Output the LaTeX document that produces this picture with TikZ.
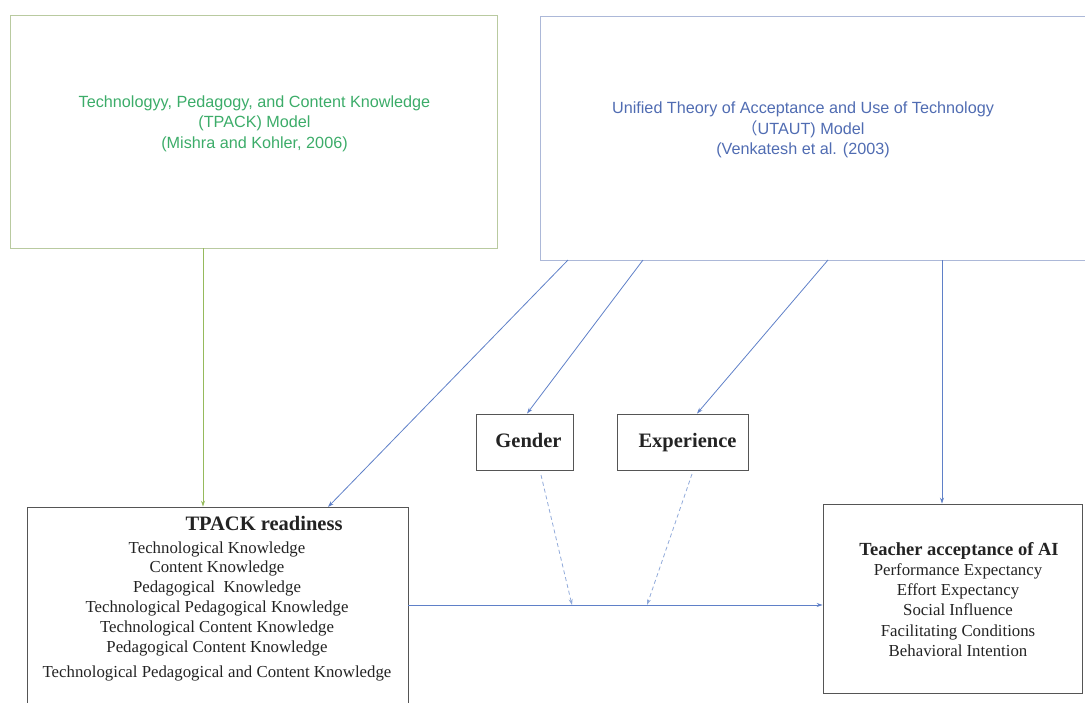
\documentclass[tikz,border=0pt]{standalone}
\usepackage{fontspec}
\setmainfont{Liberation Serif}
\newfontfamily\sansf{Liberation Sans}
\newfontfamily\cjk{Noto Sans CJK SC}
\usetikzlibrary{arrows.meta}
\definecolor{gtext}{RGB}{60,172,105}
\definecolor{btext}{RGB}{80,108,178}
\definecolor{gborder}{RGB}{185,202,160}
\definecolor{bborder}{RGB}{172,184,216}
\definecolor{barrow}{RGB}{95,128,200}
\definecolor{garrow}{RGB}{150,186,92}
\definecolor{darrow}{RGB}{145,170,218}
\definecolor{kborder}{RGB}{85,85,85}
\definecolor{ktext}{RGB}{35,35,35}
\tikzset{
  box/.style={draw, line width=0.9pt, rectangle, inner sep=0pt},
  kbox/.style={box, draw=kborder},
  modeltext/.style={font=\sansf\fontsize{16.2}{20.5}\selectfont, align=center, inner sep=0pt},
  itemtext/.style={font=\fontsize{16.8}{20}\selectfont, text=ktext, inner sep=0pt, text height=11pt, text depth=4pt},
  titletext/.style={font=\bfseries\fontsize{20.5}{24}\selectfont, text=ktext, inner sep=0pt, text height=13pt, text depth=4pt},
  arr/.style={-{Stealth[length=6pt,width=4pt]}, line width=0.8pt, draw=barrow},
}
\begin{document}
\begin{tikzpicture}[x=1pt,y=-1pt]
\useasboundingbox (0,0) rectangle (1085,702);
% boxes
\node[box, draw=gborder, minimum width=487pt, minimum height=233pt] (tpackm) at (253.5,131.5) {};
\node[box, draw=bborder, minimum width=555pt, minimum height=244pt] (utaut) at (817.5,138) {};
\node[kbox, minimum width=97pt, minimum height=56pt, font=\bfseries\fontsize{20.5}{24}\selectfont, text=ktext, text height=13pt, text depth=2pt] (gender) at (524.5,442) {\hspace{8pt}Gender};
\node[kbox, minimum width=131pt, minimum height=56pt, font=\bfseries\fontsize{20.5}{24}\selectfont, text=ktext, text height=13pt, text depth=2pt] (exper) at (682.5,442) {\hspace{10pt}Experience};
\node[kbox, minimum width=381pt, minimum height=210pt] (tread) at (217.5,612) {};
\node[kbox, minimum width=259pt, minimum height=189pt] (teach) at (952.5,598.5) {};
% model texts
\node[modeltext, text=gtext] (tpackmtxt) at (254.5,123.5) {Technologyy, Pedagogy, and Content Knowledge\\(TPACK) Model\\(Mishra and Kohler, 2006)};
\node[modeltext, text=btext] (utauttxt) at (803,130) {Unified Theory of Acceptance and Use of Technology\\{\cjk （}UTAUT) Model\\(Venkatesh et al. (2003)};
% TPACK readiness texts
\node[titletext] (trt) at (264,526) {TPACK readiness};
\node[itemtext] (tr1) at (217,550) {Technological Knowledge};
\node[itemtext] (tr2) at (217,569) {Content Knowledge};
\node[itemtext] (tr3) at (217,589) {Pedagogical \ Knowledge};
\node[itemtext] (tr4) at (217,609) {Technological Pedagogical Knowledge};
\node[itemtext] (tr5) at (217,629) {Technological Content Knowledge};
\node[itemtext] (tr6) at (217,649) {Pedagogical Content Knowledge};
\node[itemtext] (tr7) at (217,674) {Technological Pedagogical and Content Knowledge};
% Teacher acceptance texts
\node[titletext, font=\bfseries\fontsize{18.5}{22}\selectfont] (tat) at (959,551) {Teacher acceptance of AI};
\node[itemtext] (ta1) at (958,572) {Performance Expectancy};
\node[itemtext] (ta2) at (958,592) {Effort Expectancy};
\node[itemtext] (ta3) at (958,612) {Social Influence};
\node[itemtext] (ta4) at (958,633) {Facilitating Conditions};
\node[itemtext] (ta5) at (958,653) {Behavioral Intention};
% connector end points
\coordinate (g0) at (203,248);
\coordinate (u1) at (568,260);
\coordinate (u2) at (643,260);
\coordinate (u3) at (828,260);
\coordinate (u4) at (942,260);
\coordinate (t1) at (328,507);
\coordinate (gd) at (541,475);
\coordinate (ed) at (692,474);
\coordinate (m1) at (572,605);
\coordinate (m2) at (647,605);
% connectors
\draw[arr, draw=garrow] (g0) -- (g0 |- tread.north);
\draw[arr] (u1) -- (t1);
\draw[arr] (u2) -- (gender.north -| 527,0);
\draw[arr] (u3) -- (exper.north -| 697,0);
\draw[arr] (u4) -- (u4 |- teach.north);
\draw[arr] (tread.east |- m1) -- (teach.west |- m1);
\draw[arr, draw=darrow, dashed, dash pattern=on 4pt off 3pt] (gd) -- (m1);
\draw[arr, draw=darrow, dashed, dash pattern=on 4pt off 3pt] (ed) -- (m2);
\end{tikzpicture}
\end{document}
